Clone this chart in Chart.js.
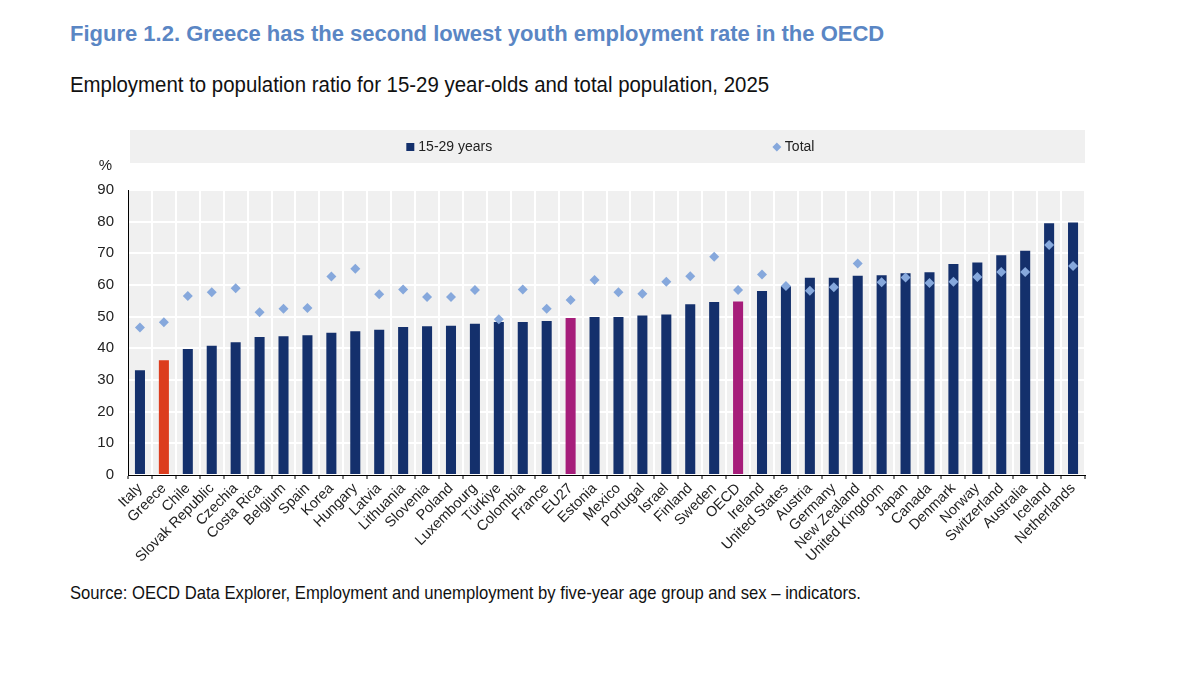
<!DOCTYPE html>
<html>
<head>
<meta charset="utf-8">
<script src="https://cdn.jsdelivr.net/npm/chart.js"></script>
<style>
  body { margin: 0; background: #fff; width: 1200px; height: 682px; overflow: hidden; position: relative;
         font-family: "Liberation Sans", Arial, sans-serif; }
  .txt { position: absolute; left: 70px; white-space: nowrap; transform-origin: left top; }
  #title { top: 21px; font-size: 22px; font-weight: bold; color: #5a86c4; }
  #subtitle { top: 72px; font-size: 22px; color: #111; transform: scaleX(0.928); }
  #source { top: 582px; font-size: 19px; color: #111; transform: scaleX(0.876); }
  #wrap { position: absolute; left: 0; top: 120px; width: 1200px; height: 460px; }
</style>
</head>
<body>
<div id="title" class="txt">Figure 1.2. Greece has the second lowest youth employment rate in the OECD</div>
<div id="subtitle" class="txt">Employment to population ratio for 15-29 year-olds and total population, 2025</div>
<div id="wrap"><canvas id="empChart"></canvas></div>
<div id="source" class="txt">Source: OECD Data Explorer, Employment and unemployment by five-year age group and sex – indicators.</div>
<script>
const countries = ['Italy', 'Greece', 'Chile', 'Slovak Republic', 'Czechia', 'Costa Rica', 'Belgium', 'Spain', 'Korea', 'Hungary',
  'Latvia', 'Lithuania', 'Slovenia', 'Poland', 'Luxembourg', 'Türkiye', 'Colombia', 'France', 'EU27', 'Estonia',
  'Mexico', 'Portugal', 'Israel', 'Finland', 'Sweden', 'OECD', 'Ireland', 'United States', 'Austria', 'Germany',
  'New Zealand', 'United Kingdom', 'Japan', 'Canada', 'Denmark', 'Norway', 'Switzerland', 'Australia', 'Iceland', 'Netherlands']
const youth = [33.1, 36.2, 39.8, 40.8, 41.9, 43.6, 43.8, 44.1, 44.9, 45.4,
  45.9, 46.7, 47.0, 47.1, 47.8, 48.3, 48.3, 48.6, 49.6, 49.9,
  49.9, 50.4, 50.7, 53.9, 54.6, 54.8, 58.1, 59.6, 62.3, 62.3,
  62.9, 63.1, 63.7, 64.0, 66.6, 67.1, 69.4, 70.8, 79.5, 79.7]
const total = [46.6, 48.2, 56.5, 57.7, 59.0, 51.4, 52.5, 52.7, 62.7, 65.1,
  57.1, 58.6, 56.2, 56.2, 58.4, 49.2, 58.6, 52.5, 55.3, 61.6,
  57.7, 57.2, 61.0, 62.8, 68.9, 58.4, 63.3, 59.7, 58.2, 59.3,
  66.8, 60.9, 62.4, 60.6, 61.0, 62.5, 64.1, 64.1, 72.6, 66.0]
const yTicks = [0, 10, 20, 30, 40, 50, 60, 70, 80, 90]

const NAVY = '#14306c'
const barColors = countries.map(c => c === 'Greece' ? '#dc3d1e' : (c === 'EU27' || c === 'OECD') ? '#a61d7a' : NAVY)
const fam = '"Liberation Sans", Arial, sans-serif'

// grey plot background, legend band and the % unit label
const decor = {
  id: 'decor',
  beforeDraw(chart) {
    const { ctx, chartArea: a } = chart
    ctx.save()
    ctx.fillStyle = '#f0f0f0'
    ctx.fillRect(a.left, a.top, a.right - a.left, a.bottom - a.top)
    ctx.fillRect(a.left + 2, 10, a.right - a.left - 2, 33)
    ctx.restore()
  },
  afterDraw(chart) {
    const { ctx, chartArea: a } = chart
    const w = a.right - a.left
    const ly = 27
    ctx.save()
    ctx.font = '14px ' + fam
    ctx.textBaseline = 'middle'
    // bars entry
    let x = a.left + w * 0.295
    ctx.fillStyle = NAVY
    ctx.fillRect(x - 4, ly - 4, 8, 8)
    ctx.fillStyle = '#222'
    ctx.fillText(chart.data.datasets[0].label, x + 8, ly)
    // diamonds entry
    x = a.left + w * 0.678
    ctx.fillStyle = '#86a8dc'
    ctx.beginPath()
    ctx.moveTo(x, ly - 4.5); ctx.lineTo(x + 4.5, ly); ctx.lineTo(x, ly + 4.5); ctx.lineTo(x - 4.5, ly)
    ctx.closePath(); ctx.fill()
    ctx.fillStyle = '#222'
    ctx.fillText(chart.data.datasets[1].label, x + 8, ly)
    // unit
    ctx.textAlign = 'right'
    ctx.font = '15px ' + fam
    ctx.fillText('%', a.left - 16, a.top - 24)
    ctx.restore()
  }
}

const ctx = document.getElementById('empChart')
const myChart = new Chart(ctx, {
  type: 'bar',
  data: {
    labels: countries,
    datasets: [{
      label: '15-29 years',
      data: youth,
      backgroundColor: barColors,
      barPercentage: 0.42,
      categoryPercentage: 1,
      order: 2
    }, {
      type: 'line',
      label: 'Total',
      data: total,
      showLine: false,
      pointStyle: 'rectRot',
      pointRadius: 5,
      pointBackgroundColor: '#86a8dc',
      pointBorderWidth: 0,
      order: 1
    }]
  },
  options: {
    responsive: true,
    maintainAspectRatio: false,
    animation: false,
    layout: { padding: { left: 0, right: 115, top: 70, bottom: 0 } },
    scales: {
      x: {
        offset: true,
        grid: { color: '#ffffff', lineWidth: 2, offset: true, tickColor: '#000', tickLength: 4, tickWidth: 1 },
        border: { color: '#000', width: 1 },
        ticks: { autoSkip: false, maxRotation: 45, minRotation: 45, color: '#222', padding: 1, font: { family: fam, size: 14.5 } },
        afterFit(scale) { scale.height = 105 }
      },
      y: {
        min: 0,
        max: 90,
        afterBuildTicks(scale) { scale.ticks = yTicks.map(v => ({ value: v })) },
        grid: { color: '#ffffff', lineWidth: 2, drawTicks: false },
        border: { color: '#000', width: 1 },
        ticks: { color: '#222', padding: 14, font: { family: fam, size: 15 } },
        afterFit(scale) { scale.width = 128 }
      }
    },
    plugins: {
      legend: { display: false },
      tooltip: { enabled: false }
    }
  },
  plugins: [decor]
})
</script>
</body>
</html>
